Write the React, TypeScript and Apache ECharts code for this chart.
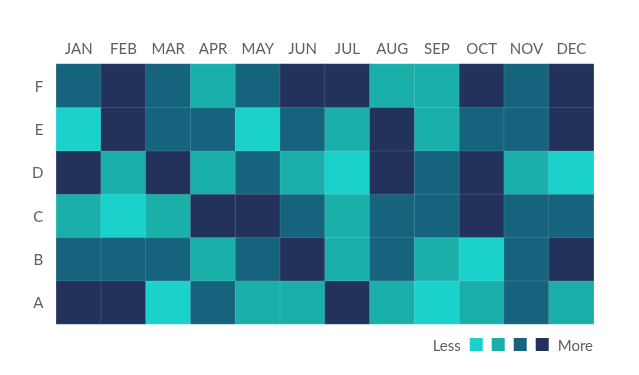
import React, { useEffect, useRef } from "react";
import * as echarts from "echarts";

const months = ["JAN", "FEB", "MAR", "APR", "MAY", "JUN", "JUL", "AUG", "SEP", "OCT", "NOV", "DEC"];
const rows = ["A", "B", "C", "D", "E", "F"];
// level 1 = less ... 4 = more
const rowA = [4, 4, 1, 3, 2, 2, 4, 2, 1, 2, 3, 2];
const rowB = [3, 3, 3, 2, 3, 4, 2, 3, 2, 1, 3, 4];
const rowC = [2, 1, 2, 4, 4, 3, 2, 3, 3, 4, 3, 3];
const rowD = [4, 2, 4, 2, 3, 2, 1, 4, 3, 4, 2, 1];
const rowE = [1, 4, 3, 3, 1, 3, 2, 4, 2, 3, 3, 4];
const rowF = [3, 4, 3, 2, 3, 4, 4, 2, 2, 4, 3, 4];
const levelColors = ["#1bd1cb", "#1aafa9", "#15637c", "#22325a"];

export default function App() {
  const ref = useRef<HTMLDivElement>(null);
  useEffect(() => {
    if (!ref.current) return;
    const chart = echarts.init(ref.current, null, { renderer: "svg" });
    const allRows = [rowA, rowB, rowC, rowD, rowE, rowF];
    const data: number[][] = [];
    allRows.forEach((r, yi) => r.forEach((v, xi) => data.push([xi, yi, v])));
    const font = "Lato, 'Noto Sans', sans-serif";
    chart.setOption({
      animation: false,
      grid: { left: 56.3, right: 45.3, top: 64, bottom: 51 },
      xAxis: {
        type: "category",
        data: months,
        position: "top",
        axisLine: { show: false },
        axisTick: { show: false },
        splitLine: { show: false },
        axisLabel: { color: "#5f5f5f", fontSize: 15, fontFamily: font, margin: 9 },
      },
      yAxis: {
        type: "category",
        data: rows,
        axisLine: { show: false },
        axisTick: { show: false },
        splitLine: { show: false },
        axisLabel: { color: "#5f5f5f", fontSize: 15, fontFamily: font, margin: 13 },
      },
      visualMap: {
        type: "piecewise",
        orient: "horizontal",
        right: 46,
        top: 337,
        padding: 0,
        itemWidth: 13,
        itemHeight: 13,
        itemGap: 9,
        itemSymbol: "rect",
        textGap: 6,
        text: ["More", "Less"],
        textStyle: { color: "#5f5f5f", fontSize: 15, fontFamily: font },
        showLabel: false,
        hoverLink: false,
        pieces: [
          { value: 1, color: levelColors[0] },
          { value: 2, color: levelColors[1] },
          { value: 3, color: levelColors[2] },
          { value: 4, color: levelColors[3] },
        ],
      },
      series: [
        {
          type: "heatmap",
          data,
          itemStyle: { borderColor: "rgba(255,255,255,0.12)", borderWidth: 1 },
          label: { show: false },
        },
      ],
    });
    return () => chart.dispose();
  }, []);
  return <div ref={ref} style={{ position: "fixed", left: 0, top: 0, width: 639, height: 375 }} />;
}
